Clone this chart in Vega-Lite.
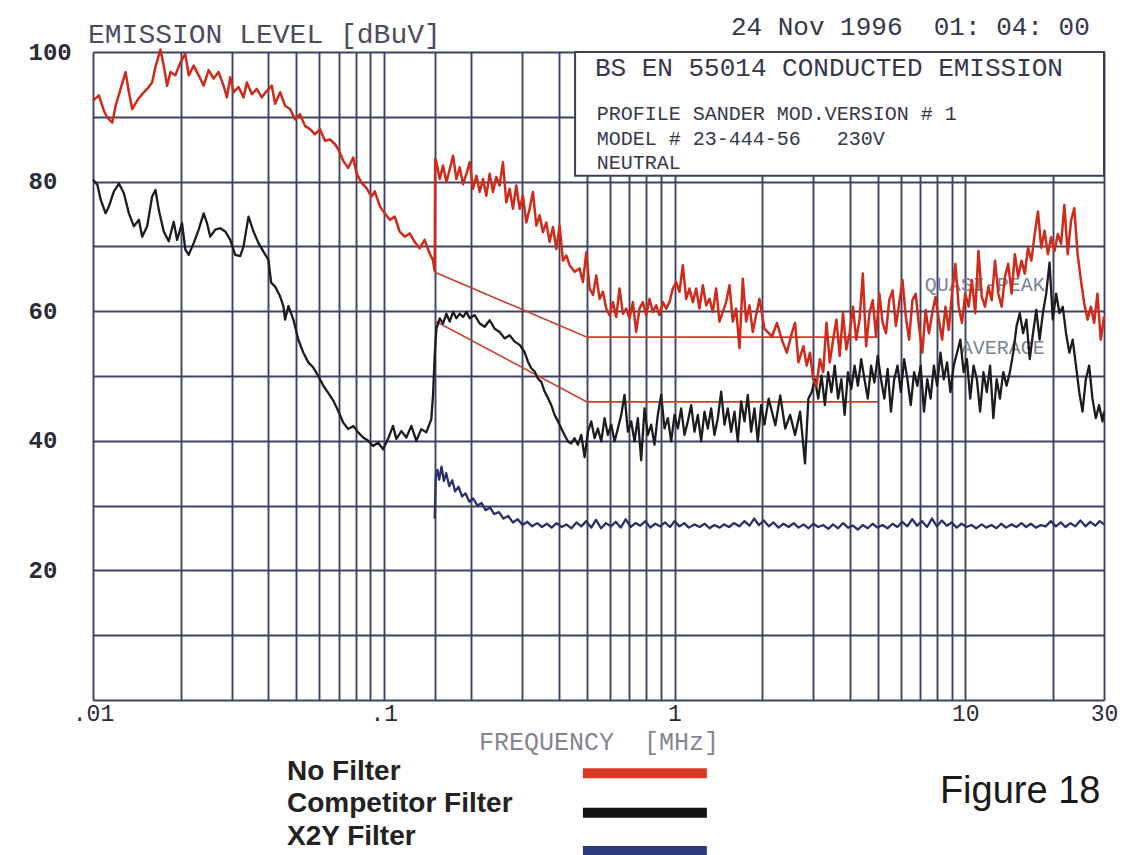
{
  "$schema": "https://vega.github.io/schema/vega-lite/v6.json",
  "width": 1011,
  "height": 648,
  "autosize": {"type": "none"},
  "padding": {"left": 93, "top": 52, "right": 36, "bottom": 155},
  "background": "white",
  "config": {"view": {"stroke": null}},
  "datasets": {
    "lim": [
      {"k": "QP", "f": 0.15, "v": 66}, {"k": "QP", "f": 0.5, "v": 56}, {"k": "QP", "f": 5, "v": 56},
      {"k": "AV", "f": 0.15, "v": 58.5}, {"k": "AV", "f": 0.5, "v": 46}, {"k": "AV", "f": 5, "v": 46}
    ],
    "nf": [
      {"f":0.01,"v":92.5},{"f":0.01048,"v":93.3},{"f":0.01091,"v":90.9},{"f":0.0112,"v":89.9},{"f":0.01165,"v":89.1},{"f":0.01196,"v":91.7},{"f":0.01244,"v":94.3},{"f":0.01294,"v":96.9},{"f":0.01329,"v":93.8},{"f":0.01364,"v":91.2},{"f":0.01419,"v":92.5},{"f":0.01476,"v":93.5},{"f":0.01536,"v":94.3},{"f":0.01597,"v":95.3},{"f":0.0164,"v":97.7},{"f":0.01706,"v":100.4},{"f":0.01751,"v":97.9},{"f":0.01798,"v":94.8},{"f":0.01846,"v":96.9},{"f":0.0192,"v":96.4},{"f":0.01998,"v":98.4},{"f":0.02078,"v":99.7},{"f":0.02134,"v":96.4},{"f":0.0222,"v":97.9},{"f":0.02309,"v":96.4},{"f":0.02402,"v":94.8},{"f":0.02498,"v":97.2},{"f":0.02599,"v":95.9},{"f":0.02704,"v":96.9},{"f":0.02813,"v":94.8},{"f":0.02888,"v":93.0},{"f":0.02965,"v":96.1},{"f":0.03044,"v":93.8},{"f":0.03166,"v":94.6},{"f":0.03294,"v":93.0},{"f":0.03381,"v":95.3},{"f":0.03518,"v":93.5},{"f":0.0366,"v":94.3},{"f":0.03807,"v":93.0},{"f":0.0396,"v":94.0},{"f":0.0412,"v":94.8},{"f":0.0423,"v":92.0},{"f":0.044,"v":93.8},{"f":0.04577,"v":91.7},{"f":0.04762,"v":91.2},{"f":0.04954,"v":89.6},{"f":0.05152,"v":90.4},{"f":0.0536,"v":88.6},{"f":0.05576,"v":88.1},{"f":0.058,"v":87.3},{"f":0.06034,"v":88.1},{"f":0.06277,"v":86.3},{"f":0.0653,"v":86.5},{"f":0.06792,"v":85.8},{"f":0.06974,"v":85.0},{"f":0.07254,"v":83.2},{"f":0.07547,"v":82.1},{"f":0.07851,"v":83.7},{"f":0.0806,"v":81.3},{"f":0.08385,"v":79.8},{"f":0.08722,"v":79.0},{"f":0.09074,"v":77.7},{"f":0.09315,"v":78.5},{"f":0.0969,"v":76.2},{"f":0.1008,"v":75.1},{"f":0.1049,"v":74.1},{"f":0.1091,"v":74.6},{"f":0.1134,"v":72.3},{"f":0.118,"v":71.5},{"f":0.1228,"v":72.0},{"f":0.1277,"v":70.7},{"f":0.1328,"v":69.7},{"f":0.1382,"v":71.0},{"f":0.1438,"v":68.9},{"f":0.1476,"v":67.9},{"f":0.1497,"v":66.2},
      {"f":0.1503,"v":83.5},{"f":0.1517,"v":83.0},{"f":0.1558,"v":80.4},{"f":0.1599,"v":82.5},{"f":0.1642,"v":79.9},{"f":0.1686,"v":81.9},{"f":0.1731,"v":84.0},{"f":0.1777,"v":80.4},{"f":0.1825,"v":82.2},{"f":0.1874,"v":79.6},{"f":0.1924,"v":81.2},{"f":0.1975,"v":83.0},{"f":0.2028,"v":78.9},{"f":0.2082,"v":80.9},{"f":0.2138,"v":78.4},{"f":0.2195,"v":80.4},{"f":0.2253,"v":77.8},{"f":0.2313,"v":81.2},{"f":0.2375,"v":78.4},{"f":0.2438,"v":80.7},{"f":0.2503,"v":79.4},{"f":0.257,"v":83.0},{"f":0.2639,"v":76.8},{"f":0.271,"v":78.9},{"f":0.2782,"v":75.8},{"f":0.2856,"v":79.4},{"f":0.2933,"v":75.8},{"f":0.3011,"v":77.8},{"f":0.3092,"v":73.7},{"f":0.3174,"v":75.8},{"f":0.3259,"v":78.4},{"f":0.3347,"v":73.2},{"f":0.3436,"v":74.8},{"f":0.3528,"v":72.2},{"f":0.3622,"v":73.7},{"f":0.3719,"v":70.7},{"f":0.3819,"v":73.0},{"f":0.3921,"v":69.6},{"f":0.4026,"v":73.2},{"f":0.4133,"v":67.8},{"f":0.4244,"v":68.6},{"f":0.4357,"v":67.1},{"f":0.4533,"v":66.1},{"f":0.4716,"v":66.6},{"f":0.4842,"v":64.5},{"f":0.4972,"v":69.1},{"f":0.5105,"v":63.5},{"f":0.5241,"v":62.5},{"f":0.5381,"v":65.5},{"f":0.5525,"v":61.9},{"f":0.5672,"v":63.0},{"f":0.5824,"v":60.4},{"f":0.5979,"v":59.4},{"f":0.6139,"v":61.4},{"f":0.6303,"v":59.1},{"f":0.6471,"v":63.5},{"f":0.6644,"v":59.6},{"f":0.6821,"v":60.4},{"f":0.7003,"v":58.9},{"f":0.719,"v":61.4},{"f":0.7382,"v":56.8},{"f":0.758,"v":60.4},{"f":0.7782,"v":61.4},{"f":0.799,"v":59.4},{"f":0.8203,"v":61.9},{"f":0.8422,"v":59.9},{"f":0.865,"v":60.9},{"f":0.8881,"v":59.4},{"f":0.9118,"v":61.4},{"f":0.9363,"v":60.4},{"f":0.9612,"v":61.4},{"f":0.9869,"v":63.5},{"f":1.0132,"v":64.5},{"f":1.0404,"v":63.0},{"f":1.0681,"v":67.1},{"f":1.0967,"v":61.9},{"f":1.1259,"v":63.5},{"f":1.1561,"v":61.4},{"f":1.1871,"v":63.5},{"f":1.2187,"v":60.4},{"f":1.2514,"v":64.0},{"f":1.2848,"v":60.9},{"f":1.3193,"v":61.9},{"f":1.3543,"v":59.9},{"f":1.3907,"v":63.5},{"f":1.4277,"v":58.4},{"f":1.466,"v":59.9},{"f":1.505,"v":61.4},{"f":1.5453,"v":64.0},{"f":1.5868,"v":58.4},{"f":1.629,"v":60.4},{"f":1.6727,"v":54.3},{"f":1.7173,"v":65.0},{"f":1.7633,"v":58.4},{"f":1.8102,"v":60.9},{"f":1.8587,"v":56.8},{"f":1.9082,"v":59.4},{"f":1.9594,"v":61.9},{"f":2.0385,"v":57.3},
      {"f":2.164,"v":56.1},{"f":2.251,"v":58.2},{"f":2.34,"v":55.6},{"f":2.434,"v":53.6},{"f":2.531,"v":56.6},{"f":2.598,"v":58.2},{"f":2.668,"v":52.1},{"f":2.775,"v":54.6},{"f":2.848,"v":51.6},{"f":2.924,"v":53.6},{"f":3.001,"v":49.5},{"f":3.08,"v":48.5},{"f":3.162,"v":52.6},{"f":3.246,"v":50.6},{"f":3.332,"v":58.2},{"f":3.42,"v":52.1},{"f":3.511,"v":55.6},{"f":3.604,"v":58.7},{"f":3.7,"v":53.1},{"f":3.797,"v":59.7},{"f":3.898,"v":54.1},{"f":4.002,"v":56.6},{"f":4.108,"v":60.7},{"f":4.217,"v":55.6},{"f":4.329,"v":58.7},{"f":4.443,"v":65.8},{"f":4.561,"v":54.6},{"f":4.683,"v":59.7},{"f":4.806,"v":61.7},{"f":4.934,"v":56.1},{"f":5.064,"v":62.7},{"f":5.199,"v":58.2},{"f":5.337,"v":56.6},{"f":5.477,"v":61.7},{"f":5.623,"v":63.2},{"f":5.772,"v":57.7},{"f":5.925,"v":61.2},{"f":6.082,"v":64.8},{"f":6.244,"v":59.2},{"f":6.409,"v":55.6},{"f":6.579,"v":61.7},{"f":6.752,"v":62.7},{"f":6.932,"v":57.7},{"f":7.116,"v":53.6},{"f":7.304,"v":60.2},{"f":7.499,"v":56.6},{"f":7.698,"v":59.7},{"f":7.901,"v":62.2},{"f":8.111,"v":58.7},{"f":8.326,"v":55.6},{"f":8.546,"v":60.7},{"f":8.774,"v":57.1},{"f":9.005,"v":62.7},{"f":9.245,"v":67.3},{"f":9.491,"v":60.7},{"f":9.741,"v":58.2},{"f":10.0,"v":62.7},{"f":10.27,"v":60.7},{"f":10.54,"v":64.8},{"f":10.82,"v":59.7},{"f":11.1,"v":69.3},{"f":11.4,"v":62.2},{"f":11.7,"v":60.7},{"f":12.01,"v":63.8},{"f":12.33,"v":61.7},{"f":12.66,"v":67.8},{"f":12.99,"v":62.7},{"f":13.34,"v":60.7},{"f":13.69,"v":65.3},{"f":14.05,"v":67.3},{"f":14.43,"v":62.7},{"f":14.81,"v":68.8},{"f":15.2,"v":65.3},{"f":15.61,"v":67.8},{"f":16.02,"v":65.8},{"f":16.44,"v":69.8},{"f":16.88,"v":67.8},{"f":17.33,"v":71.9},{"f":17.78,"v":75.4},{"f":18.25,"v":69.8},{"f":18.74,"v":72.4},{"f":19.23,"v":68.8},{"f":19.74,"v":71.4},{"f":20.27,"v":69.3},{"f":20.81,"v":71.9},{"f":21.36,"v":70.4},{"f":21.92,"v":76.4},{"f":22.51,"v":68.8},{"f":23.1,"v":73.9},{"f":23.71,"v":75.9},{"f":24.34,"v":68.8},{"f":24.99,"v":64.8},{"f":25.65,"v":61.2},{"f":26.33,"v":58.7},{"f":27.03,"v":60.7},{"f":27.75,"v":58.2},{"f":28.48,"v":62.7},{"f":29.24,"v":55.6},{"f":30.0,"v":59.2}
    ],
    "cf": [
      {"f":0.01,"v":80.3},{"f":0.01035,"v":79.5},{"f":0.01063,"v":77.2},{"f":0.01105,"v":75.1},{"f":0.01135,"v":76.2},{"f":0.0118,"v":78.5},{"f":0.01228,"v":79.7},{"f":0.01277,"v":78.2},{"f":0.01329,"v":75.1},{"f":0.01382,"v":73.1},{"f":0.01438,"v":74.1},{"f":0.01476,"v":71.5},{"f":0.01536,"v":73.1},{"f":0.01597,"v":77.7},{"f":0.0164,"v":78.7},{"f":0.01684,"v":75.6},{"f":0.01751,"v":72.3},{"f":0.01822,"v":70.8},{"f":0.01895,"v":73.8},{"f":0.01946,"v":71.0},{"f":0.02024,"v":73.6},{"f":0.02078,"v":69.5},{"f":0.02134,"v":68.7},{"f":0.0222,"v":70.5},{"f":0.02309,"v":72.6},{"f":0.02402,"v":75.1},{"f":0.02466,"v":73.6},{"f":0.02531,"v":71.5},{"f":0.02634,"v":72.6},{"f":0.0274,"v":72.8},{"f":0.02851,"v":72.3},{"f":0.02965,"v":71.0},{"f":0.03084,"v":68.7},{"f":0.03208,"v":68.5},{"f":0.03294,"v":70.0},{"f":0.03426,"v":74.6},{"f":0.03565,"v":72.3},{"f":0.03708,"v":70.5},{"f":0.03858,"v":69.2},{"f":0.04013,"v":67.9},{"f":0.04099,"v":64.4},{"f":0.0423,"v":63.8},{"f":0.044,"v":62.3},{"f":0.04517,"v":60.8},{"f":0.04577,"v":58.7},{"f":0.04699,"v":60.8},{"f":0.04889,"v":58.7},{"f":0.05085,"v":55.6},{"f":0.0529,"v":53.6},{"f":0.05503,"v":52.1},{"f":0.05724,"v":51.3},{"f":0.05955,"v":50.0},{"f":0.06194,"v":48.5},{"f":0.06444,"v":47.4},{"f":0.06703,"v":46.2},{"f":0.06974,"v":44.6},{"f":0.07254,"v":42.8},{"f":0.07547,"v":41.8},{"f":0.07851,"v":42.3},{"f":0.08166,"v":41.3},{"f":0.08495,"v":40.5},{"f":0.08837,"v":40.0},{"f":0.09193,"v":39.2},{"f":0.09563,"v":39.7},{"f":0.09947,"v":38.7},{"f":0.1035,"v":40.3},{"f":0.1076,"v":42.3},{"f":0.1105,"v":40.3},{"f":0.115,"v":41.5},{"f":0.1196,"v":40.5},{"f":0.1244,"v":42.3},{"f":0.1294,"v":40.0},{"f":0.1346,"v":41.8},{"f":0.14,"v":41.3},{"f":0.1457,"v":43.3},{"f":0.1477,"v":47.0},{"f":0.1497,"v":53.2},{"f":0.1517,"v":57.3},
      {"f":0.1558,"v":58.9},{"f":0.1599,"v":58.1},{"f":0.1642,"v":59.6},{"f":0.1686,"v":58.4},{"f":0.1731,"v":59.9},{"f":0.1777,"v":58.9},{"f":0.1825,"v":59.6},{"f":0.1874,"v":59.1},{"f":0.1924,"v":59.9},{"f":0.1975,"v":58.9},{"f":0.2055,"v":59.4},{"f":0.2138,"v":58.1},{"f":0.2224,"v":57.6},{"f":0.2313,"v":58.6},{"f":0.2406,"v":57.3},{"f":0.2503,"v":56.8},{"f":0.2604,"v":55.8},{"f":0.271,"v":56.3},{"f":0.2819,"v":55.3},{"f":0.2933,"v":54.8},{"f":0.3051,"v":53.7},{"f":0.3133,"v":52.2},{"f":0.3217,"v":51.2},{"f":0.3303,"v":50.7},{"f":0.3391,"v":49.6},{"f":0.3482,"v":49.1},{"f":0.3575,"v":47.6},{"f":0.367,"v":46.6},{"f":0.3769,"v":45.5},{"f":0.3869,"v":44.0},{"f":0.3973,"v":43.0},{"f":0.4079,"v":41.9},{"f":0.4188,"v":40.9},{"f":0.43,"v":39.9},{"f":0.4415,"v":39.6},{"f":0.4533,"v":40.4},{"f":0.4654,"v":39.4},{"f":0.4779,"v":40.9},{"f":0.4907,"v":37.5},{"f":0.5038,"v":41.4},{"f":0.5172,"v":43.0},{"f":0.5311,"v":40.4},{"f":0.5452,"v":41.9},{"f":0.5598,"v":39.9},{"f":0.5747,"v":43.5},{"f":0.5901,"v":40.9},{"f":0.6059,"v":42.5},{"f":0.622,"v":39.9},{"f":0.6386,"v":41.9},{"f":0.6557,"v":44.0},{"f":0.6732,"v":47.1},{"f":0.6912,"v":41.4},{"f":0.7096,"v":43.0},{"f":0.7286,"v":39.9},{"f":0.748,"v":43.5},{"f":0.768,"v":37.0},{"f":0.7885,"v":45.0},{"f":0.8096,"v":40.9},{"f":0.8312,"v":42.5},{"f":0.8535,"v":39.4},{"f":0.8762,"v":44.0},{"f":0.9,"v":47.1},{"f":0.9239,"v":41.9},{"f":0.9486,"v":43.5},{"f":0.9739,"v":39.9},{"f":1.0,"v":44.0},{"f":1.0268,"v":41.9},{"f":1.0541,"v":45.0},{"f":1.0824,"v":40.9},{"f":1.1111,"v":43.0},{"f":1.141,"v":45.5},{"f":1.1713,"v":41.4},{"f":1.2028,"v":44.0},{"f":1.2349,"v":39.9},{"f":1.268,"v":44.5},{"f":1.3017,"v":41.9},{"f":1.3366,"v":45.0},{"f":1.3725,"v":40.9},{"f":1.4091,"v":43.5},{"f":1.4469,"v":47.6},{"f":1.4854,"v":42.5},{"f":1.5252,"v":45.0},{"f":1.5657,"v":41.4},{"f":1.6077,"v":44.5},{"f":1.6505,"v":39.9},{"f":1.6948,"v":46.1},{"f":1.74,"v":43.0},{"f":1.7865,"v":47.1},{"f":1.8345,"v":41.4},{"f":1.8833,"v":45.0},{"f":1.9339,"v":39.9},{"f":1.9853,"v":45.5},{"f":2.0385,"v":42.5},
      {"f":2.108,"v":46.5},{"f":2.222,"v":42.4},{"f":2.31,"v":47.0},{"f":2.403,"v":41.9},{"f":2.498,"v":44.0},{"f":2.598,"v":40.9},{"f":2.703,"v":44.5},{"f":2.811,"v":36.5},{"f":2.886,"v":46.5},{"f":2.962,"v":47.5},{"f":3.041,"v":49.5},{"f":3.121,"v":46.5},{"f":3.204,"v":50.1},{"f":3.289,"v":45.5},{"f":3.376,"v":50.6},{"f":3.466,"v":47.5},{"f":3.557,"v":51.6},{"f":3.652,"v":46.5},{"f":3.749,"v":49.5},{"f":3.847,"v":44.0},{"f":3.95,"v":50.6},{"f":4.055,"v":48.0},{"f":4.162,"v":51.6},{"f":4.273,"v":48.5},{"f":4.385,"v":52.6},{"f":4.502,"v":49.5},{"f":4.621,"v":46.5},{"f":4.744,"v":51.6},{"f":4.87,"v":49.0},{"f":4.999,"v":53.1},{"f":5.131,"v":49.5},{"f":5.267,"v":46.5},{"f":5.408,"v":51.1},{"f":5.55,"v":44.5},{"f":5.697,"v":49.5},{"f":5.848,"v":51.6},{"f":6.003,"v":47.5},{"f":6.163,"v":52.6},{"f":6.325,"v":49.5},{"f":6.494,"v":45.5},{"f":6.666,"v":50.6},{"f":6.842,"v":48.5},{"f":7.024,"v":51.6},{"f":7.211,"v":44.5},{"f":7.401,"v":49.5},{"f":7.598,"v":46.5},{"f":7.798,"v":51.6},{"f":8.006,"v":48.5},{"f":8.218,"v":53.6},{"f":8.435,"v":49.5},{"f":8.66,"v":52.1},{"f":8.89,"v":47.5},{"f":9.125,"v":51.6},{"f":9.368,"v":53.6},{"f":9.616,"v":55.6},{"f":9.87,"v":50.6},{"f":10.13,"v":52.6},{"f":10.4,"v":46.5},{"f":10.68,"v":51.6},{"f":10.96,"v":49.5},{"f":11.25,"v":44.5},{"f":11.55,"v":50.6},{"f":11.86,"v":47.5},{"f":12.17,"v":51.6},{"f":12.49,"v":43.5},{"f":12.82,"v":49.5},{"f":13.16,"v":46.5},{"f":13.51,"v":50.6},{"f":13.87,"v":48.5},{"f":14.24,"v":50.6},{"f":14.62,"v":53.6},{"f":15.01,"v":57.7},{"f":15.4,"v":59.7},{"f":15.81,"v":56.6},{"f":16.23,"v":58.7},{"f":16.66,"v":52.6},{"f":17.1,"v":56.6},{"f":17.55,"v":60.2},{"f":18.02,"v":55.6},{"f":18.49,"v":59.7},{"f":18.98,"v":62.7},{"f":19.49,"v":67.5},{"f":20.0,"v":58.7},{"f":20.54,"v":62.7},{"f":21.08,"v":59.7},{"f":21.64,"v":60.7},{"f":22.21,"v":56.6},{"f":22.8,"v":53.6},{"f":23.41,"v":55.6},{"f":24.03,"v":51.6},{"f":24.66,"v":47.5},{"f":25.31,"v":44.5},{"f":25.98,"v":49.5},{"f":26.67,"v":51.6},{"f":27.38,"v":46.5},{"f":28.11,"v":43.5},{"f":28.86,"v":45.5},{"f":29.63,"v":43.0},{"f":30.0,"v":44.5}
    ],
    "x2y": [
      {"f":0.1497,"v":28.0},{"f":0.151,"v":34.5},{"f":0.153,"v":35.5},{"f":0.155,"v":34.0},{"f":0.158,"v":36.0},{"f":0.161,"v":33.8},{"f":0.164,"v":35.0},{"f":0.168,"v":33.0},{"f":0.172,"v":33.9},{"f":0.176,"v":32.2},{"f":0.181,"v":32.9},{"f":0.186,"v":31.4},{"f":0.191,"v":31.9},{"f":0.197,"v":30.6},{"f":0.203,"v":31.1},{"f":0.21,"v":30.0},{"f":0.217,"v":30.4},{"f":0.224,"v":29.3},{"f":0.232,"v":29.7},{"f":0.24,"v":28.7},{"f":0.249,"v":29.0},{"f":0.258,"v":28.0},{"f":0.268,"v":28.4},{"f":0.278,"v":27.4},{"f":0.289,"v":27.9},{"f":0.3,"v":27.0},{"f":0.312,"v":27.5},{"f":0.324,"v":26.8},{"f":0.337,"v":27.3},{"f":0.35,"v":26.7},{"f":0.364,"v":27.2},{"f":0.378,"v":26.6},{"f":0.393,"v":27.3},{"f":0.409,"v":26.7},{"f":0.425,"v":27.1},{"f":0.442,"v":26.5},{"f":0.46,"v":27.4},{"f":0.478,"v":26.8},{"f":0.497,"v":27.6},{"f":0.517,"v":26.6},{"f":0.537,"v":27.8},{"f":0.559,"v":26.5},{"f":0.581,"v":27.3},{"f":0.604,"v":26.8},{"f":0.628,"v":27.5},{"f":0.653,"v":26.6},{"f":0.679,"v":27.9},{"f":0.706,"v":26.7},{"f":0.734,"v":27.3},{"f":0.763,"v":26.9},{"f":0.794,"v":27.6},{"f":0.825,"v":26.6},{"f":0.858,"v":27.2},{"f":0.892,"v":26.8},{"f":0.928,"v":27.4},{"f":0.965,"v":26.7},{"f":1.0,"v":27.6},{"f":1.04,"v":26.8},{"f":1.08,"v":27.3},{"f":1.12,"v":26.6},{"f":1.17,"v":27.1},{"f":1.22,"v":26.7},{"f":1.27,"v":27.2},{"f":1.32,"v":26.5},{"f":1.37,"v":27.0},{"f":1.43,"v":26.6},{"f":1.48,"v":27.1},{"f":1.54,"v":26.7},{"f":1.6,"v":27.3},{"f":1.67,"v":26.8},{"f":1.74,"v":27.6},{"f":1.81,"v":26.9},{"f":1.88,"v":28.0},{"f":1.95,"v":27.0},{"f":2.03,"v":27.7},{"f":2.11,"v":26.8},{"f":2.19,"v":27.4},{"f":2.28,"v":26.6},{"f":2.37,"v":27.2},{"f":2.47,"v":26.7},{"f":2.57,"v":27.3},{"f":2.67,"v":26.6},{"f":2.78,"v":27.1},{"f":2.89,"v":26.5},{"f":3.0,"v":27.2},{"f":3.12,"v":26.7},{"f":3.25,"v":27.0},{"f":3.38,"v":26.4},{"f":3.51,"v":27.1},{"f":3.65,"v":26.5},{"f":3.8,"v":27.3},{"f":3.95,"v":26.6},{"f":4.11,"v":26.9},{"f":4.27,"v":26.3},{"f":4.44,"v":27.0},{"f":4.62,"v":26.5},{"f":4.8,"v":27.2},{"f":4.99,"v":26.6},{"f":5.19,"v":27.0},{"f":5.4,"v":26.5},{"f":5.62,"v":27.2},{"f":5.84,"v":26.7},{"f":6.07,"v":27.5},{"f":6.32,"v":26.8},{"f":6.57,"v":27.9},{"f":6.83,"v":26.9},{"f":7.1,"v":27.6},{"f":7.39,"v":26.7},{"f":7.68,"v":28.0},{"f":7.99,"v":26.8},{"f":8.31,"v":27.7},{"f":8.64,"v":26.9},{"f":8.98,"v":27.4},{"f":9.34,"v":26.6},{"f":9.71,"v":27.2},{"f":10.1,"v":26.7},{"f":10.5,"v":27.0},{"f":10.9,"v":26.5},{"f":11.4,"v":27.1},{"f":11.8,"v":26.6},{"f":12.3,"v":27.0},{"f":12.8,"v":26.5},{"f":13.3,"v":27.2},{"f":13.8,"v":26.6},{"f":14.4,"v":27.1},{"f":15.0,"v":26.7},{"f":15.6,"v":27.3},{"f":16.2,"v":26.7},{"f":16.8,"v":27.2},{"f":17.5,"v":26.6},{"f":18.2,"v":27.0},{"f":18.9,"v":26.8},{"f":19.7,"v":27.6},{"f":20.5,"v":26.8},{"f":21.3,"v":27.4},{"f":22.1,"v":26.7},{"f":23.0,"v":27.3},{"f":23.9,"v":26.8},{"f":24.9,"v":27.7},{"f":25.9,"v":26.8},{"f":26.9,"v":27.5},{"f":28.0,"v":26.9},{"f":29.0,"v":27.6},{"f":30.0,"v":27.1}
    ]
  },
  "layer": [
    {
      "data": {"name": "lim"},
      "mark": {"type": "line", "color": "#c8402c", "strokeWidth": 1.6},
      "encoding": {
        "x": {
          "field": "f", "type": "quantitative",
          "scale": {"type": "log", "domain": [0.01, 30], "nice": false},
          "axis": {
            "title": "FREQUENCY\u00a0\u00a0[MHz]",
            "values": [0.01,0.02,0.03,0.04,0.05,0.06,0.07,0.08,0.09,0.1,0.15,0.2,0.3,0.4,0.5,0.6,0.7,0.8,0.9,1,2,3,4,5,6,7,8,9,10,20,30],
            "labelExpr": "datum.value == 0.01 ? '.01' : datum.value == 0.1 ? '.1' : datum.value == 1 ? '1' : datum.value == 10 ? '10' : datum.value == 30 ? '30' : ''",
            "grid": true, "gridColor": "#3e4262", "gridWidth": 1.9, "gridOpacity": 1,
            "domain": false, "ticks": false, "tickSize": 0,
            "labelFont": "Liberation Mono", "labelFontSize": 23, "labelColor": "#2b2b38",
            "labelAlign": "center",
            "labelPadding": 2, "labelFlush": false, "labelOverlap": false, "labelBound": false,
            "titleFont": "Liberation Mono", "titleFontSize": 25, "titleFontWeight": "normal", "titleColor": "#85858f", "titlePadding": 4
          }
        },
        "y": {
          "field": "v", "type": "quantitative",
          "scale": {"domain": [0, 100], "nice": false, "zero": false},
          "axis": {
            "title": null,
            "values": [0,10,20,30,40,50,60,70,80,90,100],
            "labelExpr": "datum.value > 0 && datum.value % 20 == 0 ? datum.label : ''",
            "grid": true, "gridColor": "#3e4262", "gridWidth": 1.9, "gridOpacity": 1,
            "domain": false, "ticks": false, "tickSize": 0,
            "labelAlign": "left", "labelBaseline": "middle", "labelPadding": 65,
            "labelFont": "Liberation Mono", "labelFontSize": 24, "labelFontWeight": "bold", "labelColor": "#2b2b38",
            "labelFlush": false, "labelOverlap": false, "labelBound": false
          }
        },
        "detail": {"field": "k"}
      }
    },
    {
      "data": {"values": [{}]},
      "mark": {"type": "text", "font": "Liberation Mono", "fontSize": 20, "align": "left", "baseline": "middle", "color": "#7d8294"},
      "encoding": {
        "x": {"datum": 7.26, "type": "quantitative"},
        "y": {"datum": 64.0, "type": "quantitative"},
        "text": {"value": "QUASI-PEAK"}
      }
    },
    {
      "data": {"values": [{}]},
      "mark": {"type": "text", "font": "Liberation Mono", "fontSize": 20, "align": "right", "baseline": "middle", "color": "#7d8294"},
      "encoding": {
        "x": {"datum": 18.78, "type": "quantitative"},
        "y": {"datum": 54.3, "type": "quantitative"},
        "text": {"value": "AVERAGE"}
      }
    },
    {
      "data": {"name": "x2y"},
      "mark": {"type": "line", "color": "#29306b", "strokeWidth": 2.3, "strokeJoin": "round"},
      "encoding": {
        "x": {"field": "f", "type": "quantitative"},
        "y": {"field": "v", "type": "quantitative"}
      }
    },
    {
      "data": {"name": "cf"},
      "mark": {"type": "line", "color": "#1c1c1c", "strokeWidth": 2.3, "strokeJoin": "round"},
      "encoding": {
        "x": {"field": "f", "type": "quantitative"},
        "y": {"field": "v", "type": "quantitative"}
      }
    },
    {
      "data": {"name": "nf"},
      "mark": {"type": "line", "color": "#cf2b1b", "strokeWidth": 2.5, "strokeJoin": "round"},
      "encoding": {
        "x": {"field": "f", "type": "quantitative"},
        "y": {"field": "v", "type": "quantitative"}
      }
    },
    {
      "data": {"values": [{}]},
      "mark": {"type": "rect", "fill": "white", "stroke": "#3b3f5c", "strokeWidth": 2},
      "encoding": {
        "x": {"datum": 0.455, "type": "quantitative"},
        "x2": {"datum": 30},
        "y": {"datum": 80.9, "type": "quantitative"},
        "y2": {"datum": 100}
      }
    },
    {
      "data": {"values": [{}]},
      "mark": {"type": "text", "font": "Liberation Mono", "fontSize": 26, "align": "left", "baseline": "middle", "color": "#35374a"},
      "encoding": {
        "x": {"datum": 0.5323, "type": "quantitative"},
        "y": {"datum": 97.5, "type": "quantitative"},
        "text": {"value": "BS EN 55014 CONDUCTED EMISSION"}
      }
    },
    {
      "data": {"values": [{}]},
      "mark": {"type": "text", "font": "Liberation Mono", "fontSize": 20, "align": "left", "baseline": "middle", "color": "#35374a"},
      "encoding": {
        "x": {"datum": 0.5403, "type": "quantitative"},
        "y": {"datum": 90.43, "type": "quantitative"},
        "text": {"value": "PROFILE SANDER MOD.VERSION # 1"}
      }
    },
    {
      "data": {"values": [{}]},
      "mark": {"type": "text", "font": "Liberation Mono", "fontSize": 20, "align": "left", "baseline": "middle", "color": "#35374a"},
      "encoding": {
        "x": {"datum": 0.5403, "type": "quantitative"},
        "y": {"datum": 86.65, "type": "quantitative"},
        "text": {"value": "MODEL # 23-444-56\u00a0\u00a0\u00a0230V"}
      }
    },
    {
      "data": {"values": [{}]},
      "mark": {"type": "text", "font": "Liberation Mono", "fontSize": 20, "align": "left", "baseline": "middle", "color": "#35374a"},
      "encoding": {
        "x": {"datum": 0.5403, "type": "quantitative"},
        "y": {"datum": 82.87, "type": "quantitative"},
        "text": {"value": "NEUTRAL"}
      }
    },
    {
      "data": {"values": [{}]},
      "mark": {"type": "text", "font": "Liberation Mono", "fontSize": 26, "align": "right", "baseline": "middle", "color": "#35374a"},
      "encoding": {
        "x": {"datum": 26.8, "type": "quantitative"},
        "y": {"datum": 103.9, "type": "quantitative"},
        "text": {"value": "24 Nov 1996\u00a0\u00a001: 04: 00"}
      }
    },
    {
      "data": {"values": [{}]},
      "mark": {"type": "text", "font": "Liberation Mono", "fontSize": 28, "align": "left", "baseline": "middle", "color": "#4a4c60"},
      "encoding": {
        "x": {"datum": 0.00961, "type": "quantitative"},
        "y": {"datum": 102.6, "type": "quantitative"},
        "text": {"value": "EMISSION LEVEL [dBuV]"}
      }
    },
    {
      "data": {"values": [{}]},
      "mark": {"type": "text", "font": "Liberation Sans", "fontSize": 28, "fontWeight": "bold", "align": "left", "baseline": "middle", "color": "#222222"},
      "encoding": {
        "x": {"datum": 0.04647, "type": "quantitative"},
        "y": {"datum": -11.1, "type": "quantitative"},
        "text": {"value": "No Filter"}
      }
    },
    {
      "data": {"values": [{}]},
      "mark": {"type": "text", "font": "Liberation Sans", "fontSize": 28, "fontWeight": "bold", "align": "left", "baseline": "middle", "color": "#222222"},
      "encoding": {
        "x": {"datum": 0.04647, "type": "quantitative"},
        "y": {"datum": -16.1, "type": "quantitative"},
        "text": {"value": "Competitor Filter"}
      }
    },
    {
      "data": {"values": [{}]},
      "mark": {"type": "text", "font": "Liberation Sans", "fontSize": 28, "fontWeight": "bold", "align": "left", "baseline": "middle", "color": "#222222"},
      "encoding": {
        "x": {"datum": 0.04647, "type": "quantitative"},
        "y": {"datum": -21.2, "type": "quantitative"},
        "text": {"value": "X2Y Filter"}
      }
    },
    {
      "data": {"values": [{}]},
      "mark": {"type": "rule", "strokeWidth": 10, "color": "#d63a24", "strokeCap": "butt"},
      "encoding": {
        "x": {"datum": 0.4842, "type": "quantitative"},
        "x2": {"datum": 1.292},
        "y": {"datum": -11.3, "type": "quantitative"}
      }
    },
    {
      "data": {"values": [{}]},
      "mark": {"type": "rule", "strokeWidth": 10, "color": "#141414", "strokeCap": "butt"},
      "encoding": {
        "x": {"datum": 0.4842, "type": "quantitative"},
        "x2": {"datum": 1.292},
        "y": {"datum": -17.4, "type": "quantitative"}
      }
    },
    {
      "data": {"values": [{}]},
      "mark": {"type": "rule", "strokeWidth": 10, "color": "#2c3a7a", "strokeCap": "butt"},
      "encoding": {
        "x": {"datum": 0.4842, "type": "quantitative"},
        "x2": {"datum": 1.292},
        "y": {"datum": -23.3, "type": "quantitative"}
      }
    },
    {
      "data": {"values": [{}]},
      "mark": {"type": "text", "font": "Liberation Sans", "fontSize": 38, "align": "left", "baseline": "middle", "color": "#1a1a1a"},
      "encoding": {
        "x": {"datum": 8.18, "type": "quantitative"},
        "y": {"datum": -14.2, "type": "quantitative"},
        "text": {"value": "Figure 18"}
      }
    }
  ]
}
